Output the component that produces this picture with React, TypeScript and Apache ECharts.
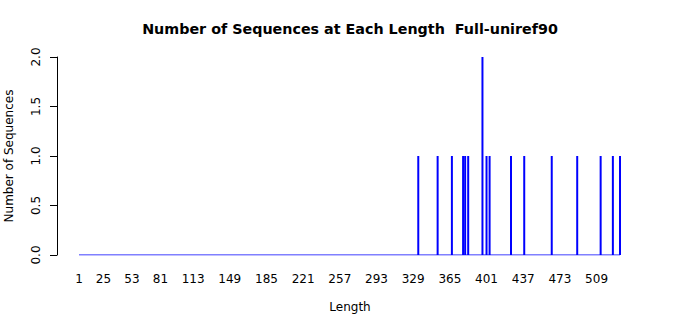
import React, { useEffect, useRef } from "react";
import * as echarts from "echarts";

const lengths = [334, 353, 367, 378, 380, 383, 397, 401, 404, 425, 438, 465, 490, 513, 525, 532];
const counts = [1, 1, 1, 1, 1, 1, 2, 1, 1, 1, 1, 1, 1, 1, 1, 1];
const xTickLabels = [1, 25, 53, 81, 113, 149, 185, 221, 257, 293, 329, 365, 401, 437, 473, 509];
const xMin = 1;
const xMax = 532;
const yTicks = [0, 0.5, 1, 1.5, 2];

export default function App() {
  const ref = useRef<HTMLDivElement>(null);
  useEffect(() => {
    const chart = echarts.init(ref.current!, null, { renderer: "svg" });
    const font = "DejaVu Sans";
    chart.setOption({
      animation: false,
      backgroundColor: "#ffffff",
      textStyle: { fontFamily: font },
      grid: { left: 79, top: 57, width: 541, height: 198 },
      xAxis: {
        type: "value",
        min: xMin,
        max: xMax,
        splitLine: { show: false },
        axisLine: { show: false },
        axisTick: { show: false },
        axisLabel: {
          customValues: xTickLabels,
          margin: 18,
          fontSize: 12,
          color: "#000",
          fontFamily: font,
        },
      },
      yAxis: {
        type: "value",
        min: 0,
        max: 2,
        interval: 0.5,
        offset: 22,
        splitLine: { show: false },
        axisLine: { show: true, lineStyle: { color: "#000", width: 1 } },
        axisTick: { show: true, length: 7, lineStyle: { color: "#000" } },
        axisLabel: {
          rotate: 90,
          margin: 15,
          fontSize: 12,
          color: "#000",
          fontFamily: font,
          formatter: (v: number) => yTicks.includes(v) ? v.toFixed(1) : "",
        },
      },
      series: [
        {
          type: "line",
          data: [[xMin, 0], [xMax, 0]],
          symbol: "none",
          lineStyle: { color: "#0000ff", width: 1 },
          silent: true,
        },
        {
          type: "bar",
          data: lengths.map((l, i) => [l, counts[i]]),
          barWidth: 2,
          itemStyle: { color: "#0000ff" },
        },
      ],
      graphic: [
        {
          type: "text",
          x: 350,
          y: 29,
          style: {
            text: "Number of Sequences at Each Length  Full-uniref90",
            fontFamily: font,
            fontSize: 14.3,
            fontWeight: "bold",
            fill: "#000",
            align: "center",
            verticalAlign: "middle",
          },
        },
        {
          type: "text",
          x: 9,
          y: 156,
          rotation: Math.PI / 2,
          style: {
            text: "Number of Sequences",
            fontFamily: font,
            fontSize: 12,
            fill: "#000",
            align: "center",
            verticalAlign: "middle",
          },
        },
        {
          type: "text",
          x: 350,
          y: 307,
          style: {
            text: "Length",
            fontFamily: font,
            fontSize: 12,
            fill: "#000",
            align: "center",
            verticalAlign: "middle",
          },
        },
      ],
    });
    return () => chart.dispose();
  }, []);
  return <div ref={ref} style={{ position: "absolute", left: 0, top: 0, width: 700, height: 315 }} />;
}
